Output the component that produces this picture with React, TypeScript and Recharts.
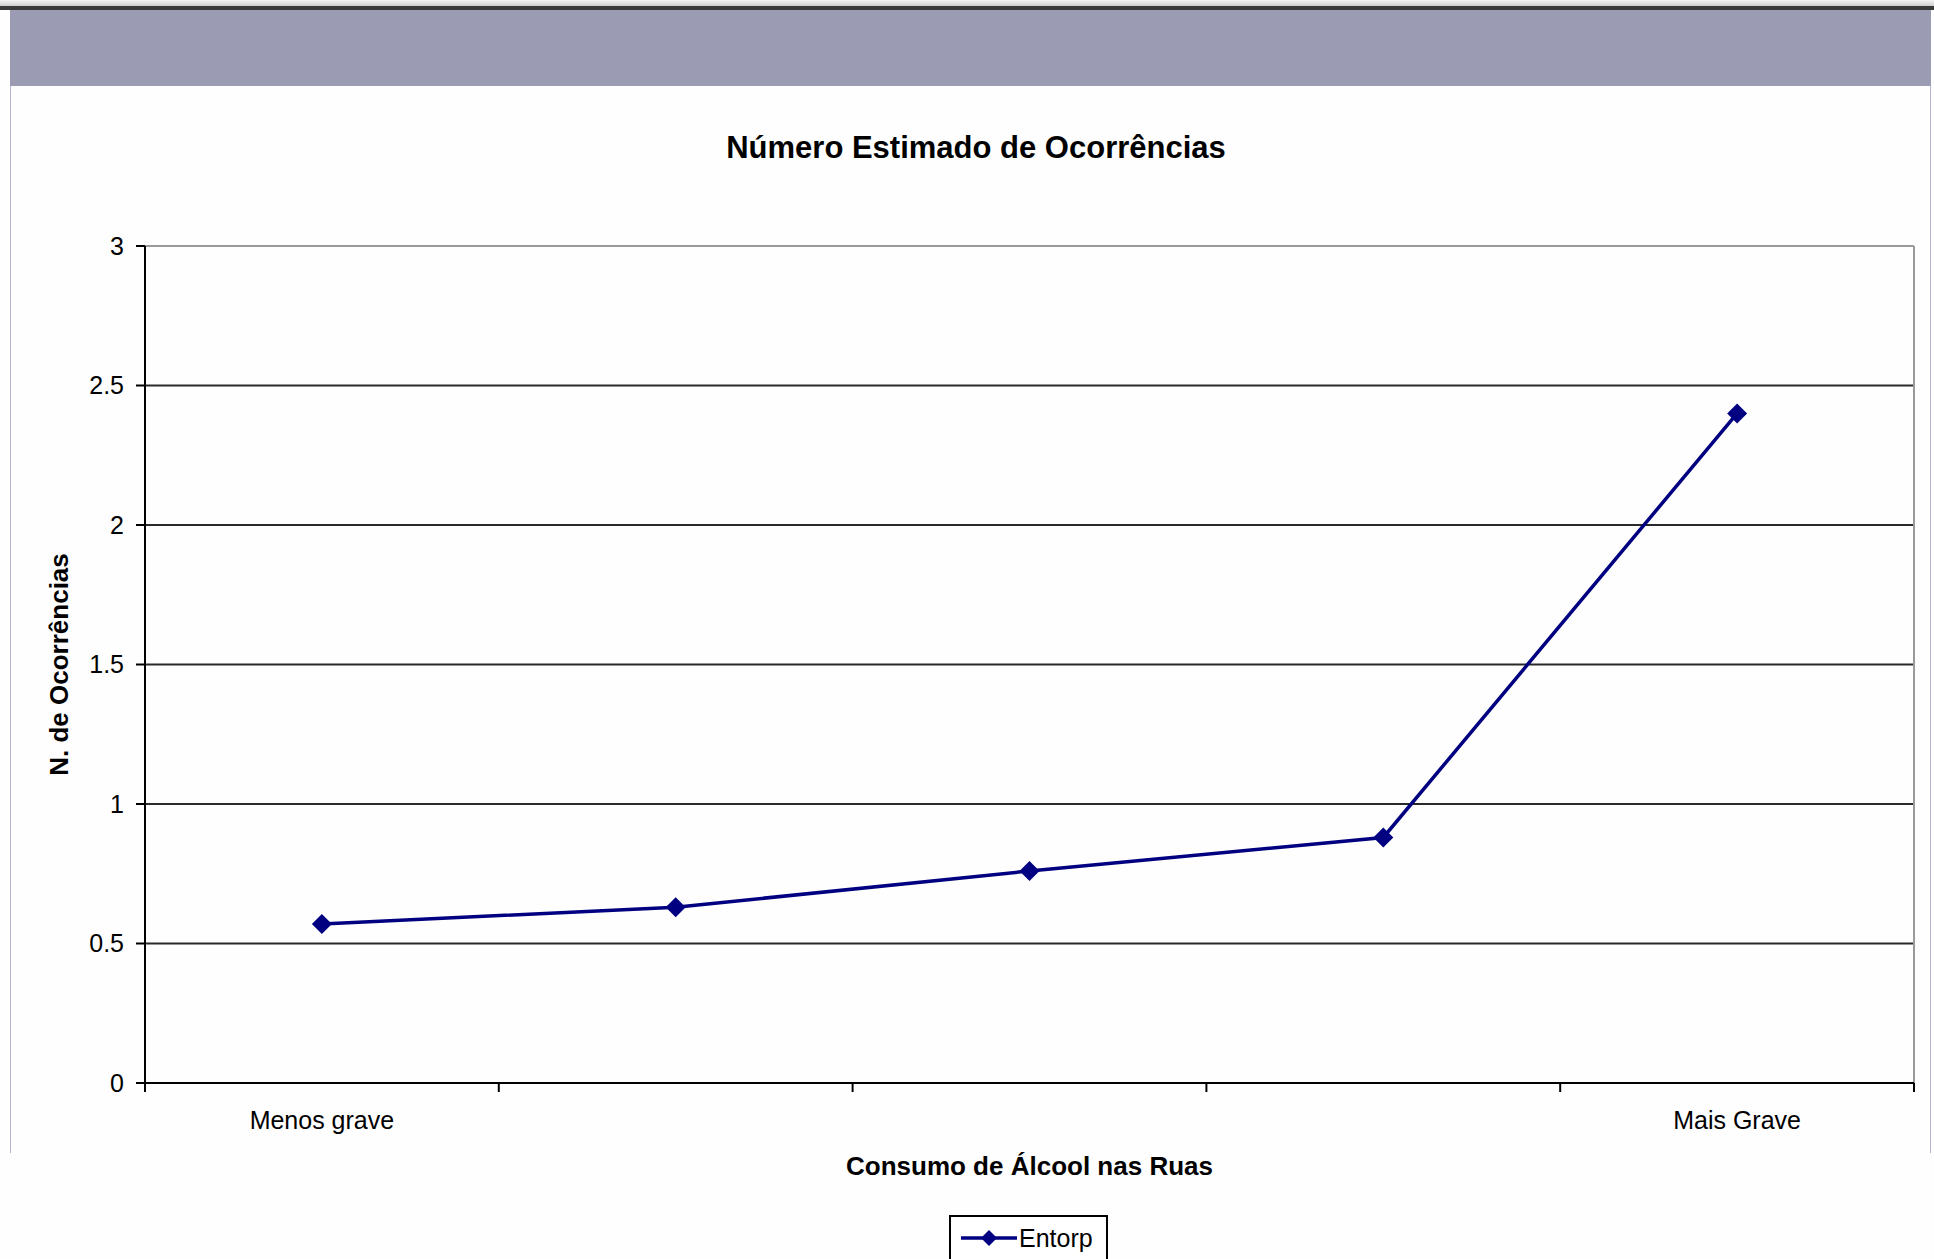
import React from 'react';
import {
  LineChart,
  Line,
  XAxis,
  YAxis,
  CartesianGrid,
  ReferenceLine,
  Legend,
} from 'recharts';

// Severity levels of street alcohol consumption (1 = least, 5 = most)
const levels = [1, 2, 3, 4, 5];
const levelLabels = ['Menos grave', '', '', '', 'Mais Grave'];
const entorpValues = [0.57, 0.63, 0.76, 0.88, 2.4];

// Category boundaries where the x-axis tick marks sit
const bandEdges = [0.5, 1.5, 2.5, 3.5, 4.5, 5.5];
const yTicks = [0, 0.5, 1, 1.5, 2, 2.5, 3];
const gridValues = [0.5, 1, 1.5, 2, 2.5];

const data = levels.map((level, i) => ({
  level,
  label: levelLabels[i],
  Entorp: entorpValues[i],
}));
const labelTicks = levels.filter((_, i) => levelLabels[i] !== '');

const FONT = '"Liberation Sans", Arial, sans-serif';
const NAVY = '#000080';

const Diamond = ({ cx, cy, r = 10, fill = NAVY }: { cx: number; cy: number; r?: number; fill?: string }) => (
  <path d={`M${cx},${cy - r}L${cx + r},${cy}L${cx},${cy + r}L${cx - r},${cy}Z`} fill={fill} />
);

const YTitle = ({ viewBox }: any) => {
  const cx = viewBox.x + 59;
  const cy = viewBox.y + viewBox.height / 2;
  return (
    <text
      x={cx}
      y={cy}
      transform={`rotate(-90 ${cx} ${cy})`}
      textAnchor="middle"
      dominantBaseline="central"
      fontFamily={FONT}
      fontWeight="bold"
      fontSize={26}
      fill="#000"
    >
      N. de Ocorrências
    </text>
  );
};

const XTitle = ({ viewBox }: any) => (
  <text
    x={viewBox.x + viewBox.width / 2}
    y={viewBox.y + 82}
    textAnchor="middle"
    dominantBaseline="central"
    fontFamily={FONT}
    fontWeight="bold"
    fontSize={26}
    fill="#000"
  >
    Consumo de Álcool nas Ruas
  </text>
);

const LegendBox = ({ payload }: any) => (
  <div
    style={{
      border: '2px solid #000',
      height: 70,
      boxSizing: 'border-box',
      display: 'flex',
      alignItems: 'flex-start',
      paddingTop: 6,
      paddingLeft: 9,
      background: '#fff',
    }}
  >
    {(payload || []).map((entry: any) => (
      <div key={entry.value} style={{ display: 'flex', alignItems: 'center' }}>
        <svg width={58} height={30}>
          <line x1={1} y1={15} x2={57} y2={15} stroke={NAVY} strokeWidth={3.5} />
          <Diamond cx={29} cy={15} r={8} />
        </svg>
        <span style={{ fontFamily: FONT, fontSize: 25, color: '#000', marginLeft: 1 }}>{entry.value}</span>
      </div>
    ))}
  </div>
);

export default function App() {
  return (
    <div
      style={{
        position: 'absolute',
        left: 0,
        top: 0,
        width: 1934,
        height: 1259,
        overflow: 'hidden',
        background: '#fefefe',
      }}
    >
      {/* window header strip */}
      <div style={{ position: 'absolute', left: 0, top: 0, width: 1934, height: 6, background: 'linear-gradient(#f4f4f4, #cfcfcf)' }} />
      <div style={{ position: 'absolute', left: 0, top: 6, width: 1934, height: 4, background: '#3a3a3a' }} />
      <div style={{ position: 'absolute', left: 10, top: 10, width: 1921, height: 76, background: '#9b9bb3' }} />
      {/* sheet frame */}
      <div style={{ position: 'absolute', left: 10, top: 86, width: 1, height: 1067, background: '#b4b4cc' }} />
      <div style={{ position: 'absolute', left: 1930, top: 86, width: 1, height: 1067, background: '#b4b4cc' }} />

      <div
        style={{
          position: 'absolute',
          left: 10,
          top: 129,
          width: 1932,
          textAlign: 'center',
          fontFamily: FONT,
          fontWeight: 'bold',
          fontSize: 31,
          lineHeight: '38px',
          color: '#000',
        }}
      >
        Número Estimado de Ocorrências
      </div>

      <div style={{ position: 'absolute', left: 0, top: 0 }}>
        <LineChart
          width={1934}
          height={1259}
          data={data}
          margin={{ top: 246, right: 20, left: 0, bottom: 25 }}
        >
          <CartesianGrid
            vertical={false}
            horizontalValues={gridValues}
            stroke="#2a2a2a"
            strokeWidth={2}
          />
          <ReferenceLine y={3} xAxisId="bands" stroke="#9a9a9a" strokeWidth={2} />
          <ReferenceLine x={5.5} xAxisId="bands" stroke="#9a9a9a" strokeWidth={2} />
          <XAxis
            xAxisId="bands"
            type="number"
            dataKey="level"
            domain={[0.5, 5.5]}
            ticks={bandEdges}
            tickFormatter={() => ''}
            tickSize={9}
            height={1}
            axisLine={{ stroke: '#000', strokeWidth: 2 }}
            tickLine={{ stroke: '#000', strokeWidth: 2 }}
          />
          <XAxis
            xAxisId="grade"
            type="number"
            dataKey="level"
            domain={[0.5, 5.5]}
            ticks={labelTicks}
            tickFormatter={(v: number) => levelLabels[levels.indexOf(v)] ?? ''}
            axisLine={false}
            tickLine={false}
            tickSize={8}
            tickMargin={19}
            height={100}
            tick={{ fontFamily: FONT, fontSize: 25, fill: '#000' }}
            label={{ content: XTitle }}
          />
          <YAxis
            type="number"
            domain={[0, 3]}
            ticks={yTicks}
            width={145}
            tickSize={9}
            tickMargin={12}
            axisLine={{ stroke: '#000', strokeWidth: 2 }}
            tickLine={{ stroke: '#000', strokeWidth: 2 }}
            tick={{ fontFamily: FONT, fontSize: 25, fill: '#000' }}
            label={{ content: YTitle }}
          />
          <Line
            xAxisId="grade"
            type="linear"
            dataKey="Entorp"
            stroke={NAVY}
            strokeWidth={3.5}
            dot={(p: any) => <Diamond key={p.index} cx={p.cx} cy={p.cy} />}
            activeDot={false}
            isAnimationActive={false}
          />
          <Legend
            verticalAlign="bottom"
            content={LegendBox}
            wrapperStyle={{ left: 949, top: 1215, width: 159, height: 50 }}
          />
        </LineChart>
      </div>
    </div>
  );
}
